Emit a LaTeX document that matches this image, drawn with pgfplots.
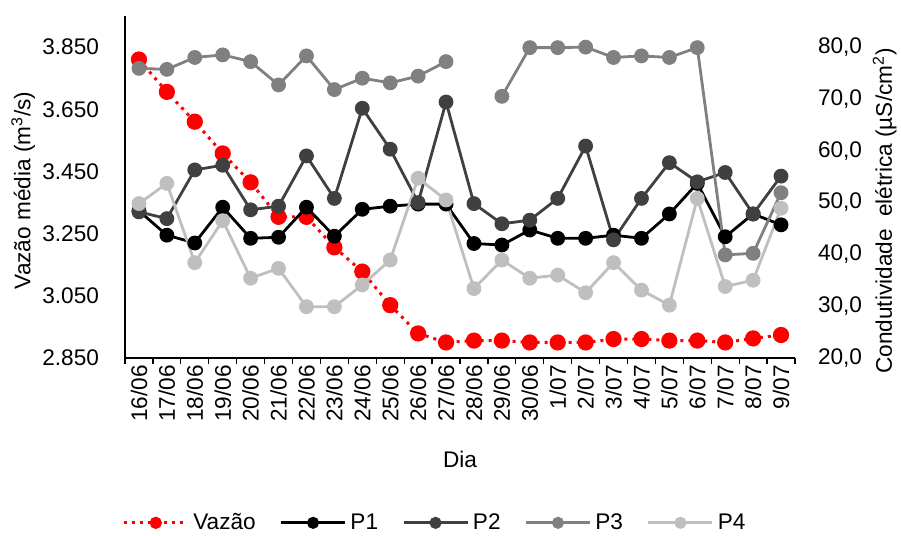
\documentclass[border=0pt]{standalone}
\usepackage{fontspec}
\setmainfont{Liberation Sans}
\usepackage{pgfplots}
\pgfplotsset{compat=1.18}
\definecolor{cPone}{HTML}{000000}
\definecolor{cPtwo}{HTML}{404040}
\definecolor{cPthree}{HTML}{808080}
\definecolor{cPfour}{HTML}{BFBFBF}
\pgfplotsset{
  common/.style={
    at={(62.5pt,89pt)}, anchor=south west,
    scale only axis, width=335pt, height=171pt,
    xmin=-0.5, xmax=23.5,
    font=\fontsize{11.3}{13}\selectfont,
    major tick length=0pt,
    /pgf/number format/assume math mode=true,
  },
  pstyle/.style={color=#1, line width=1.4pt, mark=*, mark size=3pt, mark options={solid, fill=#1, draw=#1}},
  vstyle/.style={color=red, line width=1.5pt, dash pattern=on 1.5pt off 2.5pt, mark=*, mark size=3.3pt, mark options={solid, fill=red, draw=red}},
}
\begin{document}
\begin{tikzpicture}
\path[use as bounding box] (0,0) rectangle (450.5pt,268pt);
\begin{axis}[common,
  ymin=2.85, ymax=3.95,
  ytick={2.85,3.05,3.25,3.45,3.65,3.85},
  y tick label style={/pgf/number format/.cd, fixed, fixed zerofill, precision=3, 1000 sep={}, /tikz/.cd, xshift=-9.5pt},
  xtick={0,...,23},
  xticklabels={16/06,17/06,18/06,19/06,20/06,21/06,22/06,23/06,24/06,25/06,26/06,27/06,28/06,29/06,30/06,1/07,2/07,3/07,4/07,5/07,6/07,7/07,8/07,9/07},
  x tick label style={rotate=90, anchor=east},
  minor xtick={-0.5,0.5,...,23.5},
  minor tick length=3pt,
  tick align=outside,
  minor tick style={black, line width=0.6pt},
  axis x line*=bottom, axis y line*=left,
  axis line style={-, black, line width=0.7pt},
  ylabel={Vazão média (m\textsuperscript{3}/s)},
  ylabel style={at={(axis description cs:-0.152,0.49)}, anchor=center},
  xlabel={Dia},
  xlabel style={at={(axis description cs:0.5,-0.298)}, anchor=center},
]
\addplot[vstyle] coordinates {
(0,3.810) (1,3.706) (2,3.610) (3,3.508) (4,3.415) (5,3.304) (6,3.304) (7,3.206)
(8,3.128) (9,3.020) (10,2.929) (11,2.900) (12,2.906) (13,2.906) (14,2.900) (15,2.900)
(16,2.900) (17,2.911) (18,2.911) (19,2.906) (20,2.906) (21,2.900) (22,2.913) (23,2.924)};
\end{axis}
\begin{axis}[common,
  ymin=20, ymax=86,
  ytick={20,30,40,50,60,70,80},
  y tick label style={/pgf/number format/.cd, fixed, fixed zerofill, precision=1, use comma, /tikz/.cd, xshift=8pt},
  xtick=\empty,
  axis y line*=right, axis x line=none,
  y axis line style={draw=none},
  ylabel={Condutividade\ \ elétrica (µS/cm\textsuperscript{2})},
  ylabel style={at={(axis description cs:1.134,0.43)}, anchor=center},
  unbounded coords=jump,
  legend image code/.code={\draw[mark repeat=2, mark phase=2, #1, mark size=2.3pt] plot coordinates {(0pt,0pt) (16pt,0pt) (32pt,0pt)};},
  legend style={at={(axis description cs:0.464,-0.482)}, anchor=center, draw=none, legend columns=5,
    font=\fontsize{11.3}{13}\selectfont,
    /tikz/every even column/.append style={column sep=10pt}},
]
\addlegendimage{vstyle}
\addlegendentry{Vazão}
\addplot[pstyle=cPone] coordinates {
(0,48.4) (1,43.7) (2,42.2) (3,49.1) (4,43.1) (5,43.3) (6,49.1) (7,43.5)
(8,48.7) (9,49.3) (10,49.7) (11,49.7) (12,42.1) (13,41.8) (14,44.7) (15,43.1)
(16,43.1) (17,43.7) (18,43.1) (19,47.8) (20,53.7) (21,43.4) (22,47.8) (23,45.7)};
\addlegendentry{P1}
\addplot[pstyle=cPtwo] coordinates {
(0,48.2) (1,46.9) (2,56.3) (3,57.2) (4,48.6) (5,49.3) (6,59.0) (7,50.8)
(8,68.2) (9,60.3) (10,50.0) (11,69.4) (12,49.8) (13,45.9) (14,46.6) (15,50.8)
(16,60.9) (17,42.8) (18,50.8) (19,57.7) (20,54.0) (21,55.8) (22,47.8) (23,55.1)};
\addlegendentry{P2}
\addplot[pstyle=cPthree] coordinates {
(0,75.9) (1,75.7) (2,78.0) (3,78.5) (4,77.2) (5,72.7) (6,78.3) (7,71.8)
(8,74.0) (9,73.1) (10,74.4) (11,77.2) (12,nan) (13,70.5) (14,79.9) (15,79.9)
(16,80.0) (17,78.0) (18,78.3) (19,78.0) (20,79.9) (21,39.9) (22,40.2) (23,51.9)};
\addlegendentry{P3}
\addplot[pstyle=cPfour] coordinates {
(0,49.8) (1,53.7) (2,38.4) (3,46.5) (4,35.4) (5,37.3) (6,29.9) (7,29.9)
(8,34.1) (9,38.9) (10,54.7) (11,50.5) (12,33.4) (13,38.9) (14,35.4) (15,36.0)
(16,32.6) (17,38.4) (18,33.1) (19,30.2) (20,50.8) (21,33.8) (22,35.0) (23,48.9)};
\addlegendentry{P4}
\end{axis}
\end{tikzpicture}
\end{document}
